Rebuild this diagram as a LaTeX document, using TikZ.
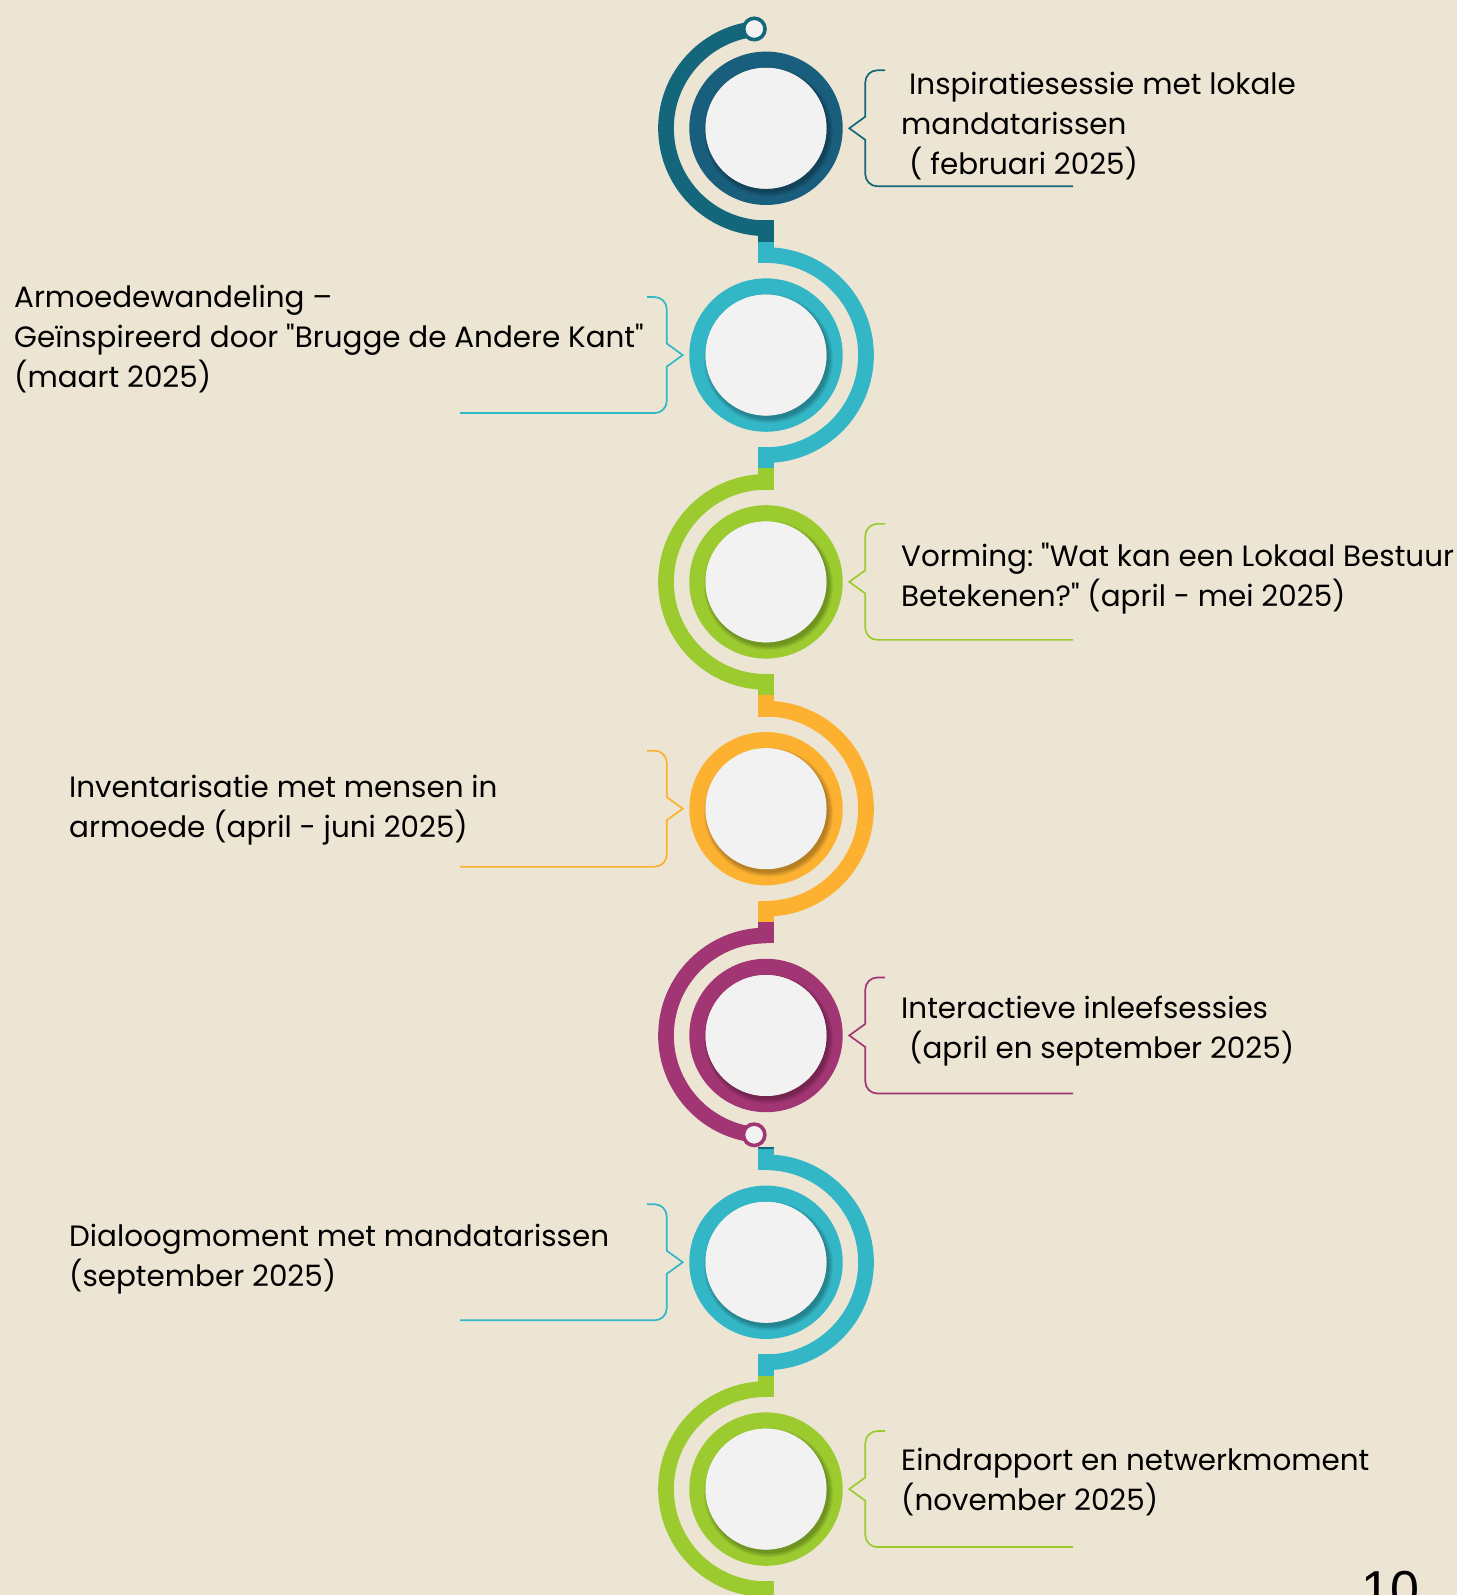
\documentclass[tikz,border=0pt]{standalone}
\usepackage{fontspec}
\setmainfont{Poppins}[Ligatures=TeXOff]
\newfontfamily\pagefont{Liberation Sans}
\frenchspacing
\definecolor{bg}{RGB}{237,229,212}
\definecolor{cdark}{RGB}{26,94,125}
\definecolor{cdarkarc}{RGB}{20,103,122}
\definecolor{cteal}{RGB}{51,183,198}
\definecolor{cgreen}{RGB}{155,203,47}
\definecolor{corange}{RGB}{253,177,49}
\definecolor{cmag}{RGB}{162,53,115}
\definecolor{disc}{RGB}{242,242,242}
\tikzset{
  arcband/.style={line width=15.7pt},
  ringband/.style={line width=16.2pt},
  brk/.style={line width=1.7pt},
  lbl/.style={anchor=base west, inner sep=0pt, font=\frenchspacing\fontsize{29.4}{39}\selectfont, text=black},
  discnode/.style={circle, fill=disc, minimum size=121pt, inner sep=0pt},
  dotnode/.style={circle, line width=3.6pt, fill=disc, minimum size=21.4pt, inner sep=0pt},
}
\newcommand\ringitem[3]{%
  \draw[ringband, #3] (766,#2) circle[radius=68.6];
  \foreach \j in {0,...,4} \fill[black, opacity=0.06] (768.5,#2-3.5) circle[radius=60.5+\j];
  \node[discnode] (#1) at (766,#2) {};
}
\newcommand\toptab[2]{\fill[#2] (758,#1+92) rectangle (774,#1+113.4);}
\newcommand\bottab[2]{\fill[#2] (758,#1-92) rectangle (774,#1-113.4);}
\newcommand\rbrk[2]{%
  \draw[brk, #2] (885,#1+58) -- (877.3,#1+58) arc[start angle=90,end angle=180,radius=12]
    -- (865.3,#1+11.6) -- (849.3,#1) -- (865.3,#1-11.6) -- (865.3,#1-46)
    arc[start angle=180,end angle=270,radius=12] -- (1073,#1-58);}
\newcommand\lbrk[2]{%
  \draw[brk, #2] (647,#1+58) -- (654.7,#1+58) arc[start angle=90,end angle=0,radius=12]
    -- (666.7,#1+11.6) -- (682.7,#1) -- (666.7,#1-11.6) -- (666.7,#1-46)
    arc[start angle=0,end angle=-90,radius=12] -- (460,#1-58);}
\begin{document}
\begin{tikzpicture}[x=1pt,y=1pt]
\useasboundingbox (0,0) rectangle (1457,1595);
\fill[bg] (0,0) rectangle (1457,1595);
\clip (0,0) rectangle (1457,1595);
% outer arcs and tabs
% item 1
\draw[arcband, cdarkarc] (754.33,1566.02) arc[start angle=96.7, end angle=270, radius=100];
\bottab{1466.7}{cdarkarc}
% item 2
\draw[arcband, cteal] (766,1339.9) arc[start angle=90, end angle=-90, radius=100];
\toptab{1239.9}{cteal}\bottab{1239.9}{cteal}
% item 3
\draw[arcband, cgreen] (766,1113.1) arc[start angle=90, end angle=270, radius=100];
\toptab{1013.1}{cgreen}\bottab{1013.1}{cgreen}
% item 4
\draw[arcband, corange] (766,886.3) arc[start angle=90, end angle=-90, radius=100];
\toptab{786.3}{corange}\bottab{786.3}{corange}
% item 5
\draw[arcband, cmag] (766,659.5) arc[start angle=90, end angle=263.2, radius=100];
\toptab{559.5}{cmag}
% item 6
\draw[arcband, cteal] (766,432.7) arc[start angle=90, end angle=-90, radius=100];
\toptab{332.7}{cteal}\bottab{332.7}{cteal}
\fill[cdarkarc] (758,446.1) rectangle (774,448.4);
% item 7
\draw[arcband, cgreen] (766,205.9) arc[start angle=90, end angle=270, radius=100];
\toptab{105.9}{cgreen}\bottab{105.9}{cgreen}
% rings and discs
\ringitem{d1}{1466.7}{cdark}
\ringitem{d2}{1239.9}{cteal}
\ringitem{d3}{1013.1}{cgreen}
\ringitem{d4}{786.3}{corange}
\ringitem{d5}{559.5}{cmag}
\ringitem{d6}{332.7}{cteal}
\ringitem{d7}{105.9}{cgreen}
% end dots
\node[dotnode, draw=cdarkarc] (s1) at (754.33,1566.02) {};
\node[dotnode, draw=cmag] (s5) at (754.16,460.2) {};
% brackets
\rbrk{1466.7}{cdarkarc}
\lbrk{1239.9}{cteal}
\rbrk{1013.1}{cgreen}
\lbrk{786.3}{corange}
\rbrk{559.5}{cmag}
\lbrk{332.7}{cteal}
\rbrk{105.9}{cgreen}
% texts
\node[lbl] (t1a) at (909,1500) {Inspiratiesessie met lokale};
\node[lbl] (t1b) at (901,1460.3) {mandatarissen};
\node[lbl] (t1c) at (909,1420.6) {( februari 2025)};
\node[lbl] (t2a) at (14,1287) {Armoedewandeling –};
\node[lbl] (t2b) at (14,1247.3) {Geïnspireerd door "Brugge de Andere Kant"};
\node[lbl] (t2c) at (14,1207.6) {(maart 2025)};
\node[lbl] (t3a) at (901,1028) {Vorming: "Wat kan een Lokaal Bestuur};
\node[lbl] (t3b) at (901,988.3) {Betekenen?" (april - mei 2025)};
\node[lbl] (t4a) at (69,797) {Inventarisatie met mensen in};
\node[lbl] (t4b) at (69,757.3) {armoede (april - juni 2025)};
\node[lbl] (t5a) at (901,576) {Interactieve inleefsessies};
\node[lbl] (t5b) at (909,536.3) {(april en september 2025)};
\node[lbl] (t6a) at (69,348) {Dialoogmoment met mandatarissen};
\node[lbl] (t6b) at (69,308.3) {(september 2025)};
\node[lbl] (t7a) at (901,124) {Eindrapport en netwerkmoment};
\node[lbl] (t7b) at (901,84.3) {(november 2025)};
\node[anchor=base west, inner sep=0pt, font=\pagefont\fontsize{52}{52}\selectfont] (pg) at (1361,-12.9) {10};
\end{tikzpicture}
\end{document}
